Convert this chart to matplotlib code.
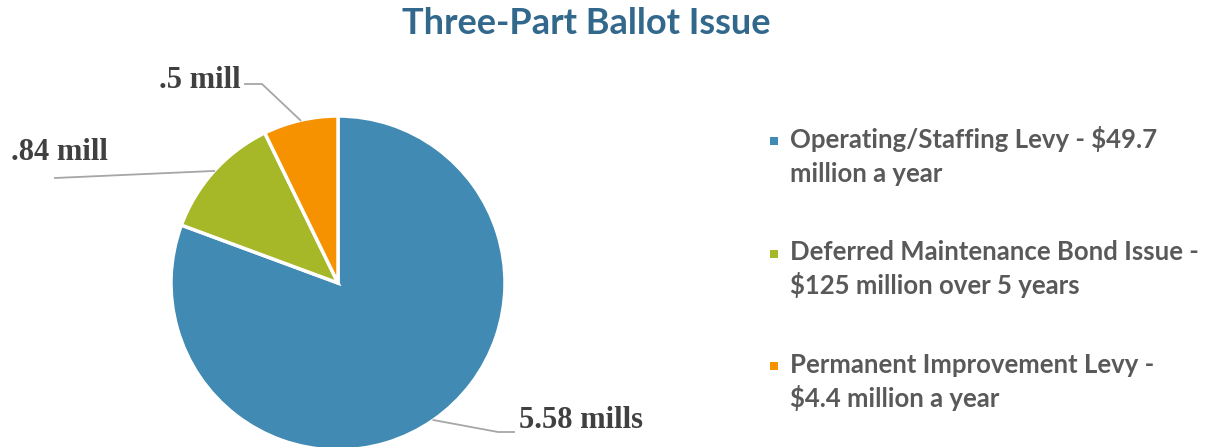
import numpy as np
import matplotlib.pyplot as plt
from matplotlib.patches import Rectangle

# pie data
labels = ["Operating/Staffing Levy - $49.7\nmillion a year",
          "Deferred Maintenance Bond Issue -\n$125 million over 5 years",
          "Permanent Improvement Levy -\n$4.4 million a year"]
mills = [5.58, 0.84, 0.5]
value_labels = ["5.58 mills", ".84 mill", ".5 mill"]
colors = ["#418AB3", "#A6B727", "#F69200"]

W, H = 1208, 447
fig = plt.figure(figsize=(W / 100, H / 100), dpi=100)

# pie axes placed by pixel center/radius
cx, cy, r = 338, 283, 167
ax = fig.add_axes([(cx - r) / W, (H - cy - r) / H, 2 * r / W, 2 * r / H])
wedges, _ = ax.pie(mills, colors=colors, startangle=90, counterclock=False,
                   radius=1, wedgeprops=dict(edgecolor="white", linewidth=2.5))
ax.set_xlim(-1, 1)
ax.set_ylim(-1, 1)
ax.set_aspect("equal")
ax.axis("off")
for w in wedges:
    w.set_clip_on(False)


def px(x, y):
    # pixel position -> pie data coords
    return (x - cx) / r, (cy - y) / r


label_font = dict(family="Liberation Serif", weight="bold", size=22, color="#404040")

# leader lines: start at wedge middle on the rim, then through fixed elbow points
for w, lab in zip(wedges, value_labels):
    ang = np.deg2rad((w.theta1 + w.theta2) / 2)
    x0, y0 = np.cos(ang), np.sin(ang)
    if lab == "5.58 mills":
        pts = [px(498, 432), px(514, 432)]
        tx, ty, ha = px(519, 420) + ("left",)
    elif lab == ".84 mill":
        pts = [px(55, 178)]
        tx, ty, ha = px(108, 152) + ("right",)
    else:
        pts = [px(262, 84), px(245, 84)]
        tx, ty, ha = px(241, 80) + ("right",)
    xs = [x0] + [p[0] for p in pts]
    ys = [y0] + [p[1] for p in pts]
    ax.plot(xs, ys, color="#A6A6A6", lw=1.3, clip_on=False)
    ax.text(tx, ty, lab, ha=ha, va="center", clip_on=False, **label_font)

fig.text(586 / W, 1 - 24 / H, "Three-Part Ballot Issue", ha="center", va="center",
         family="Lato", weight="bold", size=26, color="#31688C")

# legend drawn by hand so the marker sits on the first line
for i, (lab, c) in enumerate(zip(labels, colors)):
    base = 148 + i * 112.5
    fig.patches.append(Rectangle((770 / W, 1 - (base - 3) / H), 8 / W, 8 / H,
                                 transform=fig.transFigure, facecolor=c, edgecolor="none"))
    for j, line in enumerate(lab.split("\n")):
        fig.text(790 / W, 1 - (base + j * 34) / H, line, ha="left", va="baseline",
                 family="Lato", weight="bold", size=18.5, color="#595959")

fig.savefig("out.png", dpi=100)
